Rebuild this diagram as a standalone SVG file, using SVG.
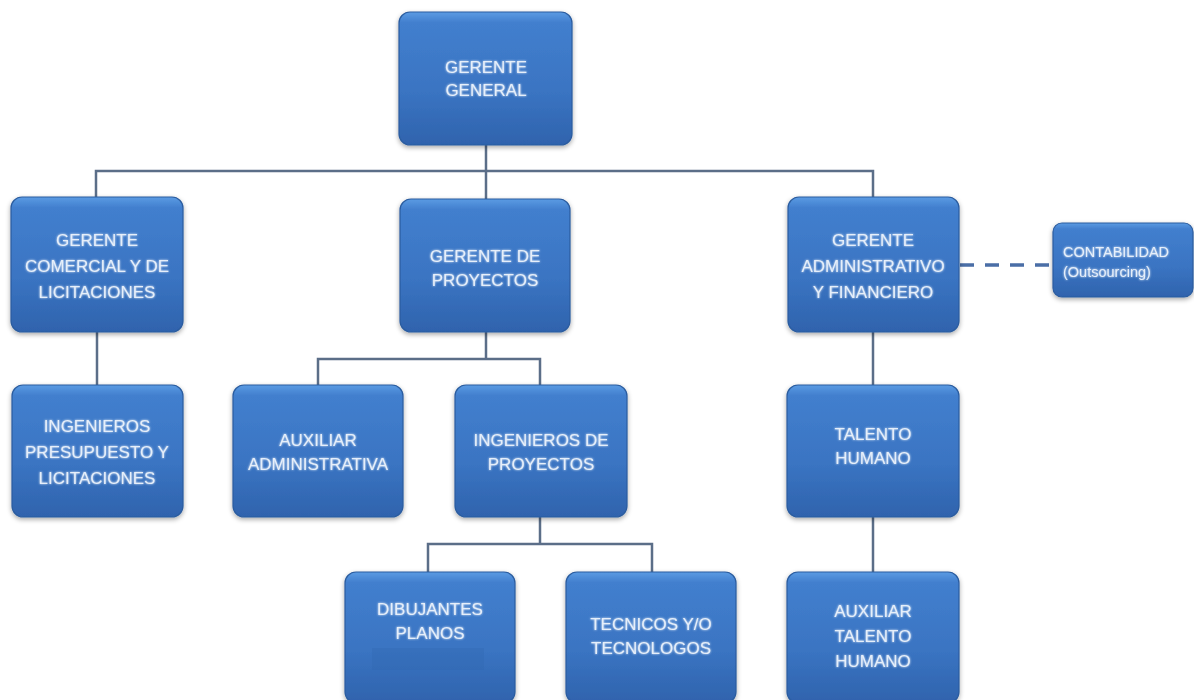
<svg xmlns="http://www.w3.org/2000/svg" width="1194" height="700" viewBox="0 0 1194 700">
<defs>
<linearGradient id="box" x1="0" y1="0" x2="0" y2="1">
<stop offset="0" stop-color="#5b9be3"/>
<stop offset="0.08" stop-color="#427fce"/>
<stop offset="0.6" stop-color="#3a74c2"/>
<stop offset="1" stop-color="#2f63ad"/>
</linearGradient>
<filter id="sh" x="-10%" y="-10%" width="120%" height="125%">
<feGaussianBlur in="SourceAlpha" stdDeviation="2.5"/>
<feOffset dx="0" dy="2" result="b"/>
<feComponentTransfer><feFuncA type="linear" slope="0.35"/></feComponentTransfer>
<feMerge><feMergeNode/><feMergeNode in="SourceGraphic"/></feMerge>
</filter>
<filter id="glow" x="-10%" y="-30%" width="120%" height="160%">
<feGaussianBlur in="SourceGraphic" stdDeviation="1.2" result="g"/>
<feMerge><feMergeNode in="g"/><feMergeNode in="SourceGraphic"/></feMerge>
</filter>
</defs>
<style>
.box{fill:url(#box);stroke:#2b5c9f;stroke-width:1.2;filter:url(#sh)}
.t{font-family:"Liberation Sans","Open Sans",Arial,sans-serif;font-size:17px;fill:#e6effa;text-anchor:middle;filter:url(#glow)}
.ts{font-family:"Liberation Sans","Open Sans",Arial,sans-serif;font-size:14.5px;fill:#e6effa;filter:url(#glow)}
.c{stroke:#5b6e88;stroke-width:2.5;fill:none}
.d{stroke:#4a6ea6;stroke-width:3.5;fill:none;stroke-dasharray:14 11}
</style>
<rect width="1194" height="700" fill="#ffffff"/>
<g id="connectors">
<path class="c" d="M486,145 V199"/>
<path class="c" d="M96,197 V171 H873 V197"/>
<path class="c" d="M97,332 V385"/>
<path class="c" d="M486,332 V359"/>
<path class="c" d="M318,385 V359 H540 V385"/>
<path class="c" d="M873,332 V385"/>
<path class="c" d="M540,517 V544"/>
<path class="c" d="M428,572 V544 H652 V572"/>
<path class="c" d="M873,517 V572"/>
<path class="d" d="M960,265 H1053"/>
</g>
<g id="gerente-general">
<rect class="box" x="399" y="12" width="173" height="133" rx="11"/>
<text class="t" x="486" y="73">GERENTE</text>
<text class="t" x="486" y="96">GENERAL</text>
</g>
<g id="gerente-comercial">
<rect class="box" x="11" y="197" width="172" height="135" rx="11"/>
<text class="t" x="97" y="246">GERENTE</text>
<text class="t" x="97" y="272">COMERCIAL Y DE</text>
<text class="t" x="97" y="298">LICITACIONES</text>
</g>
<g id="gerente-proyectos">
<rect class="box" x="400" y="199" width="170" height="133" rx="11"/>
<text class="t" x="485" y="262">GERENTE DE</text>
<text class="t" x="485" y="286">PROYECTOS</text>
</g>
<g id="gerente-administrativo">
<rect class="box" x="788" y="197" width="171" height="135" rx="11"/>
<text class="t" x="873" y="246">GERENTE</text>
<text class="t" x="873" y="272">ADMINISTRATIVO</text>
<text class="t" x="873" y="298">Y FINANCIERO</text>
</g>
<g id="contabilidad">
<rect class="box" x="1053" y="223" width="140" height="74" rx="9"/>
<text class="ts" x="1063" y="257">CONTABILIDAD</text>
<text class="ts" x="1063" y="277">(Outsourcing)</text>
</g>
<g id="ingenieros-presupuesto">
<rect class="box" x="12" y="385" width="171" height="132" rx="11"/>
<text class="t" x="97" y="432">INGENIEROS</text>
<text class="t" x="97" y="458">PRESUPUESTO Y</text>
<text class="t" x="97" y="484">LICITACIONES</text>
</g>
<g id="auxiliar-administrativa">
<rect class="box" x="233" y="385" width="170" height="132" rx="11"/>
<text class="t" x="318" y="446">AUXILIAR</text>
<text class="t" x="318" y="470">ADMINISTRATIVA</text>
</g>
<g id="ingenieros-proyectos">
<rect class="box" x="455" y="385" width="172" height="132" rx="11"/>
<text class="t" x="541" y="446">INGENIEROS DE</text>
<text class="t" x="541" y="470">PROYECTOS</text>
</g>
<g id="talento-humano">
<rect class="box" x="787" y="385" width="172" height="132" rx="11"/>
<text class="t" x="873" y="440">TALENTO</text>
<text class="t" x="873" y="464">HUMANO</text>
</g>
<g id="dibujantes">
<rect class="box" x="345" y="572" width="170" height="131" rx="11"/>
<rect x="372" y="648" width="112" height="22" fill="#2f66b0" opacity="0.3"/>
<text class="t" x="430" y="615">DIBUJANTES</text>
<text class="t" x="430" y="639">PLANOS</text>
</g>
<g id="tecnicos">
<rect class="box" x="566" y="572" width="170" height="131" rx="11"/>
<text class="t" x="651" y="630">TECNICOS Y/O</text>
<text class="t" x="651" y="654">TECNOLOGOS</text>
</g>
<g id="auxiliar-talento">
<rect class="box" x="787" y="572" width="172" height="131" rx="11"/>
<text class="t" x="873" y="617">AUXILIAR</text>
<text class="t" x="873" y="642">TALENTO</text>
<text class="t" x="873" y="667">HUMANO</text>
</g>
</svg>
